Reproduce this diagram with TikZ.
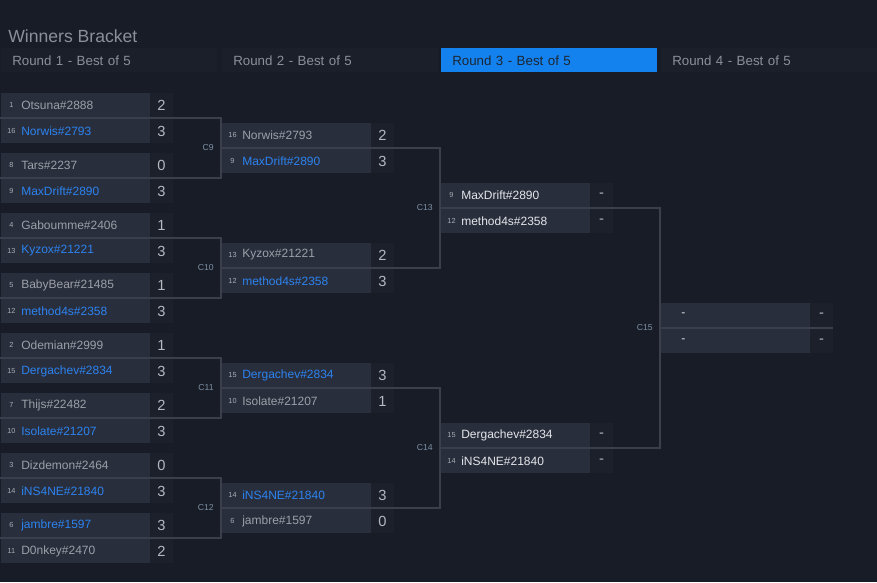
\documentclass[tikz,border=0pt]{standalone}
\usepackage{fontspec}
\setmainfont{Liberation Sans}
\usetikzlibrary{positioning,calc}
\definecolor{night}{HTML}{181C27}
\definecolor{rowfill}{HTML}{292E3C}
\definecolor{scorefill}{HTML}{1C202B}
\definecolor{hdrfill}{HTML}{1B1F2A}
\definecolor{hdrblue}{HTML}{1482EE}
\definecolor{hdrdark}{HTML}{1C2633}
\definecolor{wiregray}{HTML}{3A3F4B}
\definecolor{inkgray}{HTML}{9BA0A8}
\definecolor{winblue}{HTML}{2C83F0}
\definecolor{inkwhite}{HTML}{E4E6EA}
\definecolor{seedgray}{HTML}{A8ACB3}
\definecolor{scoregray}{HTML}{B4B8BF}
\definecolor{clabelgray}{HTML}{7D8FA3}
\definecolor{titlegray}{HTML}{8A9099}
\pgfdeclarelayer{background}
\pgfsetlayers{background,main}
\tikzset{
  namebox/.style={fill=rowfill,anchor=north west,minimum width=111.75pt,
                  minimum height=18pt,inner sep=0pt,outer sep=0pt},
  scorebox/.style={fill=scorefill,minimum width=17.25pt,minimum height=18pt,
                   inner sep=0pt,outer sep=0pt,text=scoregray,
                   font=\fontsize{11}{13}\selectfont},
  seednum/.style={inner sep=0pt,text=seedgray,font=\fontsize{5.5}{6}\selectfont},
  pname/.style={anchor=west,inner sep=0pt,font=\fontsize{9}{11}\selectfont},
  lose/.style={text=inkgray},
  win/.style={text=winblue},
  tbd/.style={text=inkwhite},
  wire/.style={draw=wiregray,line width=1.5pt},
  clabel/.style={anchor=east,inner sep=0pt,text=clabelgray,
                 font=\fontsize{6.5}{8}\selectfont},
  hdr/.style={fill=hdrfill,anchor=north west,text width=145.5pt,align=left,
              minimum height=18pt,inner xsep=8.25pt,inner ysep=0pt,
              text=titlegray,font=\fontsize{10}{12}\selectfont},
  hdrsel/.style={hdr,fill=hdrblue,text=hdrdark}
}
% one player row: id, x, top y, seed, player, score, style
\newcommand{\prow}[7]{%
  \node[namebox] (#1) at (#2,#3) {};
  \node[seednum] at ($(#1.west)+(10.5,0)$) {#4};
  \node[pname,#7] at ($(#1.west)+(20,0)$) {#5};
  \node[scorebox,right=0pt of #1] (#1s) {#6};
}

\begin{document}
\begin{tikzpicture}[x=0.75pt,y=-0.75pt]
  \begin{pgfonlayer}{background}
    \fill[night] (0,0) rectangle (877,582);
  \end{pgfonlayer}
  \path[use as bounding box] (0,0) rectangle (877,582);

  \node[anchor=west,inner sep=0pt,text=titlegray,
        font=\fontsize{13.2}{15}\selectfont] (title) at (8,36) {Winners Bracket};

  % round headers
  \node[hdr] (r1) at (1,48) {Round 1 - Best of 5};
  \node[hdr] (r2) at (222,48) {Round 2 - Best of 5};
  \node[hdrsel] (r3) at (441,48) {Round 3 - Best of 5};
  \node[hdr] (r4) at (661,48) {Round 4 - Best of 5};

  % matches
  \foreach \m/\x/\y/\sa/\na/\ca/\ta/\sb/\nb/\cb/\tb in {
      1/1/93/1/Otsuna\#2888/2/lose/16/Norwis\#2793/3/win,
      2/1/153/8/Tars\#2237/0/lose/9/MaxDrift\#2890/3/win,
      3/1/213/4/Gaboumme\#2406/1/lose/13/Kyzox\#21221/3/win,
      4/1/273/5/BabyBear\#21485/1/lose/12/method4s\#2358/3/win,
      5/1/333/2/Odemian\#2999/1/lose/15/Dergachev\#2834/3/win,
      6/1/393/7/Thijs\#22482/2/lose/10/Isolate\#21207/3/win,
      7/1/453/3/Dizdemon\#2464/0/lose/14/iNS4NE\#21840/3/win,
      8/1/513/6/jambre\#1597/3/win/11/D0nkey\#2470/2/lose,
      9/222/123/16/Norwis\#2793/2/lose/9/MaxDrift\#2890/3/win,
      10/222/243/13/Kyzox\#21221/2/lose/12/method4s\#2358/3/win,
      11/222/363/15/Dergachev\#2834/3/win/10/Isolate\#21207/1/lose,
      12/222/483/14/iNS4NE\#21840/3/win/6/jambre\#1597/0/lose,
      13/441/183/9/MaxDrift\#2890/-/tbd/12/method4s\#2358/-/tbd,
      14/441/423/15/Dergachev\#2834/-/tbd/14/iNS4NE\#21840/-/tbd,
      15/661/303//-/-/tbd//-/-/tbd}{
    \prow{top\m}{\x}{\y}{\sa}{\na}{\ca}{\ta}
    \prow{bot\m}{\x}{\y+26}{\sb}{\nb}{\cb}{\tb}
    \coordinate (m\m) at ($(top\m.south west)!0.5!(bot\m.north west)+(-1,0)$);
  }

  % bracket lines
  \begin{pgfonlayer}{background}
    \foreach \a/\b/\c in {1/2/9,3/4/10,5/6/11,7/8/12,9/10/13,11/12/14,13/14/15}{
      \draw[wire] (m\a) -- (m\a -| m\c) |- (m\b);
    }
    \draw[wire] (m15) -- (m15 -| top15s.east);
  \end{pgfonlayer}
  \foreach \c in {9,...,15}{
    \node[clabel] at ($(m\c)+(-7,0)$) {C\c};
  }
\end{tikzpicture}
\end{document}
